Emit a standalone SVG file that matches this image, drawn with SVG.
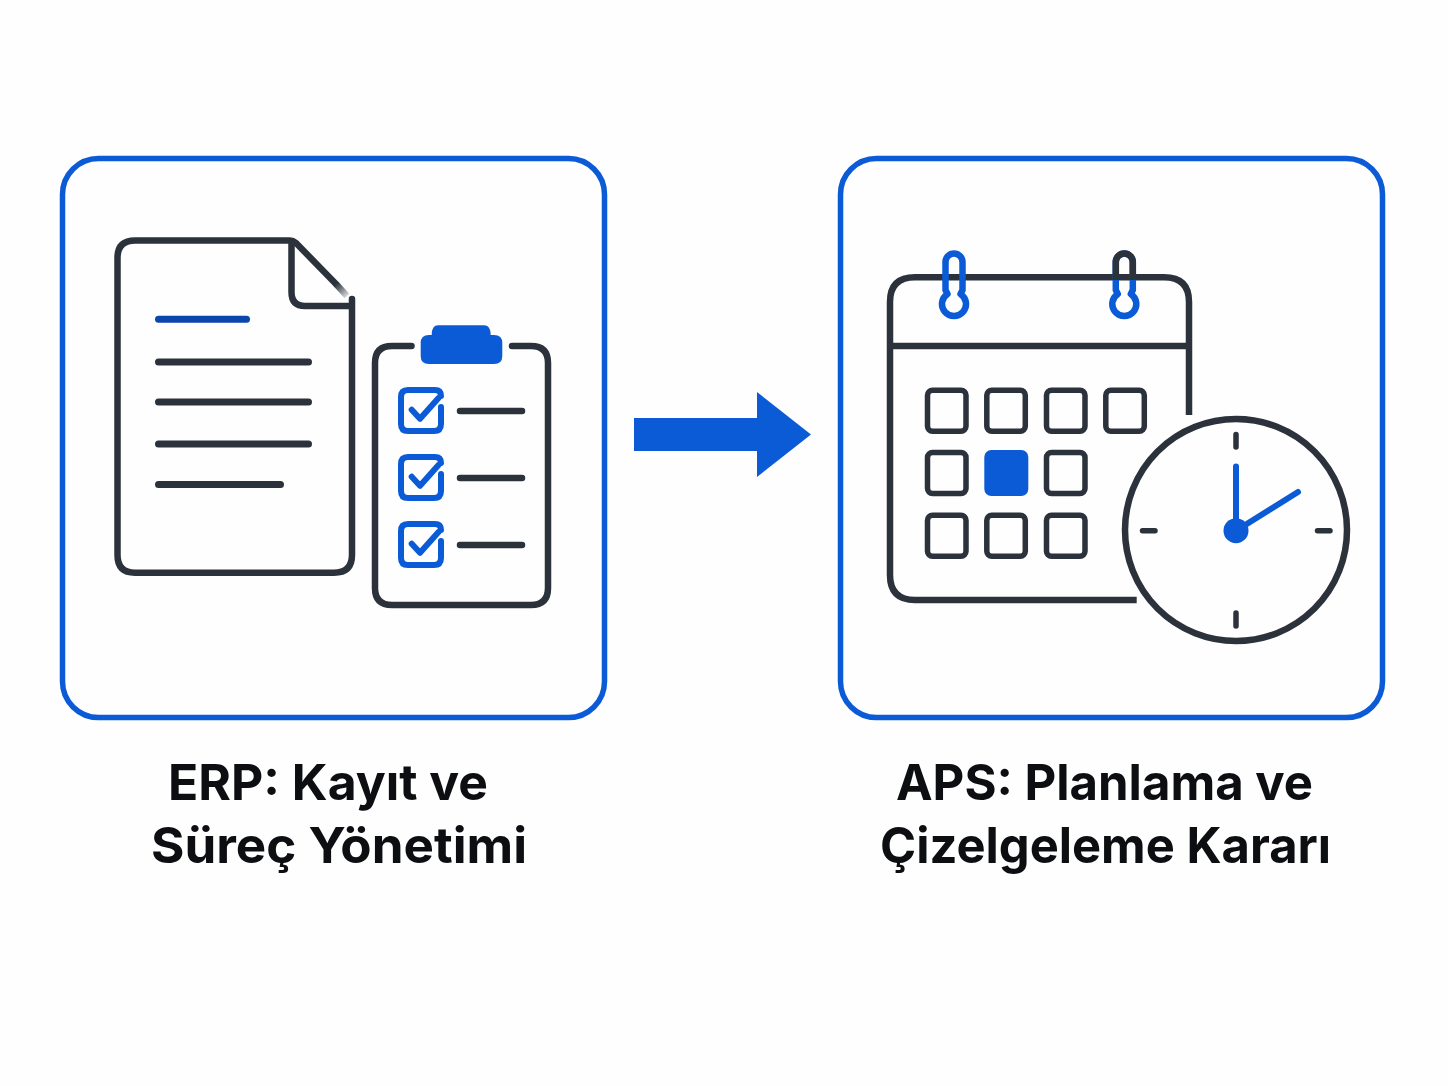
<svg xmlns="http://www.w3.org/2000/svg" width="1448" height="1086" viewBox="0 0 1448 1086">
<style>
.frame{fill:#fefefe;stroke:#0b5bd7;stroke-width:5.500}
.d{fill:none;stroke:#2b323b;stroke-width:6.500;stroke-linecap:round;stroke-linejoin:round}
.dl{fill:none;stroke:#2b323b;stroke-width:7;stroke-linecap:round}
.s{fill:none;stroke:#2b323b;stroke-width:5.500}
.b{fill:none;stroke:#0b5bd7;stroke-width:6;stroke-linecap:round;stroke-linejoin:round}
.f{fill:#0b5bd7}
.t{font-family:Inter,"Liberation Sans",sans-serif;font-weight:750;font-size:50px;fill:#0c0e11;text-anchor:middle}
</style>
<defs>
<linearGradient id="fade" gradientUnits="userSpaceOnUse" x1="336" y1="284" x2="347" y2="296">
<stop offset="0" stop-color="#2b323b"/>
<stop offset="1" stop-color="#d5d8da"/>
</linearGradient>
<g id="check">
<path class="b" d="M441 396Q441 390 435 390H408Q401 390 401 397V424Q401 431 408 431H434Q441 431 441 424V407"/>
<path class="b" d="M411.700 409.800L420 418.800L438.300 398.300"/>
<path class="dl" d="M460 411H522" style="stroke-width:6.500"/>
</g>
<rect id="cell" width="38.500" height="41" rx="5" class="s"/>
<path id="ring" class="b" style="stroke-width:6.500" d="M-6.500 293.900A12 12 0 1 0 6.500 293.900L8.500 290V262a8.500 8.500 0 0 0 -17 0V290Z"/>
</defs>
<rect width="1448" height="1086" fill="#fefefe"/>
<g id="erp-node">
<rect class="frame" x="62.500" y="158.500" width="542" height="559" rx="36"/>
<g id="document">
<path class="d" d="M336 284L296 243Q293 240.500 290 240.500H135Q117.500 240.500 117.500 258V555Q117.500 572.700 135 572.700H334Q352 572.700 352 555V299"/>
<path d="M336 284L347 296" stroke="url(#fade)" stroke-width="6.500" fill="none"/>
<path class="d" d="M291.500 243V292Q291.500 306 305 306H350"/>
<path class="dl" style="stroke:#0a46ab" d="M158.500 319.300H246.500"/>
<path class="dl" d="M158.500 362H308.500M158.500 402H308.500M158.500 444H308.500M158.500 484.500H280.500"/>
</g>
<g id="clipboard">
<path class="d" d="M411.500 346H392Q375 346 375 363V588Q375 605 392 605H531Q548 605 548 588V363Q548 346 531 346H512"/>
<path class="f" d="M438 325.300H484Q490.700 325.300 490.700 335H494Q502.300 335 502.300 343V356Q502.300 364 494 364H429Q420.700 364 420.700 356V343Q420.700 335 429 335H431.700Q431.700 325.300 438 325.300Z"/>
<use href="#check"/>
<use href="#check" y="67"/>
<use href="#check" y="134"/>
</g>
</g>
<g id="connectors">
<path id="arrow" class="f" d="M634 418H757V392L811 434.500L757 477V451H634Z"/>
</g>
<g id="aps-node">
<rect class="frame" x="840.500" y="158.500" width="542" height="559" rx="36"/>
<g id="calendar">
<path class="d" style="stroke-linecap:butt" d="M1189 415V302Q1189 277.300 1164 277.300H915Q890 277.300 890 302V575Q890 600 915 600H1136.700"/>
<path class="d" style="stroke-linecap:butt" d="M890 346H1189"/>
<use href="#ring" x="954"/>
<use href="#ring" x="1124.300"/>
<path class="d" style="stroke-linecap:butt" d="M1115.800 280V262a8.500 8.500 0 0 1 17 0V280"/>
<use href="#cell" x="927.500" y="390.200"/>
<use href="#cell" x="986.800" y="390.200"/>
<use href="#cell" x="1046.500" y="390.200"/>
<use href="#cell" x="1105.800" y="390.200"/>
<use href="#cell" x="927.500" y="452.500"/>
<rect class="f" x="984.300" y="450" width="44" height="46" rx="7"/>
<use href="#cell" x="1046.500" y="452.500"/>
<use href="#cell" x="927.500" y="515.200"/>
<use href="#cell" x="986.800" y="515.200"/>
<use href="#cell" x="1046.500" y="515.200"/>
</g>
<g id="clock">
<circle cx="1236" cy="530" r="111" class="d"/>
<path class="d" style="stroke-width:5.500" d="M1236 434.500V447M1236 613V626M1142.500 530.700H1155M1317.500 530.700H1330"/>
<path class="b" d="M1236 530.700V466.500M1236 530.700L1298 492"/>
<circle class="f" cx="1236" cy="530.700" r="12.500"/>
</g>
</g>
<g id="labels">
<text class="t" x="328" y="799.500" textLength="320" lengthAdjust="spacingAndGlyphs">ERP: Kayıt ve</text>
<text class="t" x="339" y="862.500" textLength="376" lengthAdjust="spacingAndGlyphs">Süreç Yönetimi</text>
<text class="t" x="1104.500" y="799.500" textLength="417" lengthAdjust="spacingAndGlyphs">APS: Planlama ve</text>
<text class="t" x="1105.500" y="862.500" textLength="451" lengthAdjust="spacingAndGlyphs">Çizelgeleme Kararı</text>
</g>
</svg>
